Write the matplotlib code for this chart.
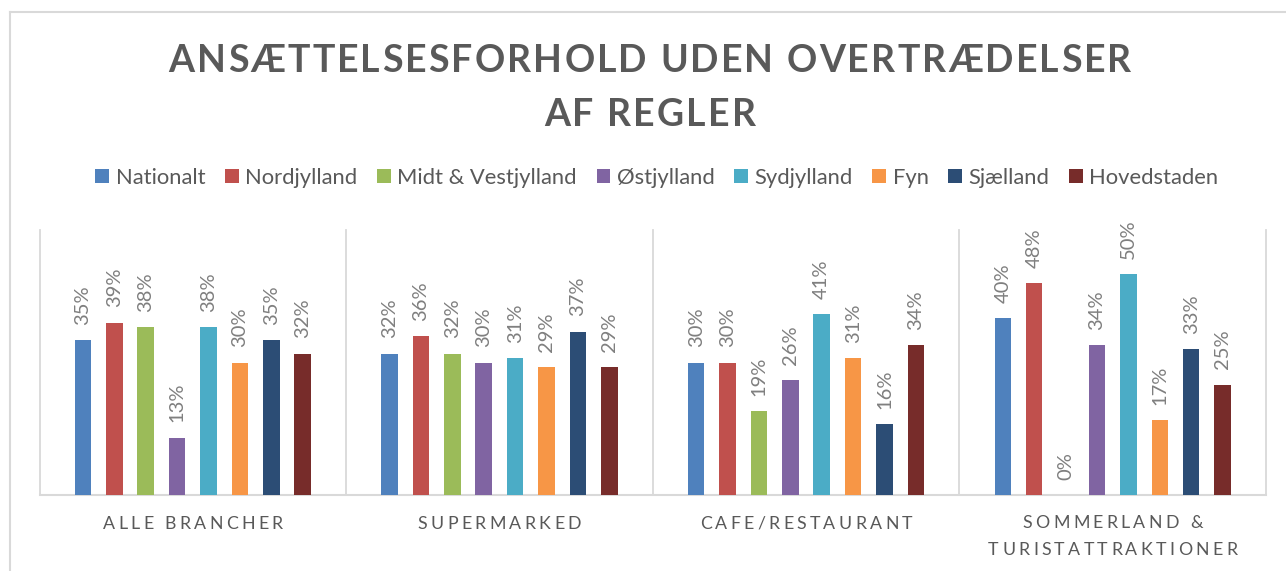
import matplotlib
matplotlib.use('Agg')
import matplotlib.pyplot as plt
from matplotlib.font_manager import FontProperties, findfont, get_font
from matplotlib.lines import Line2D
from matplotlib.transforms import IdentityTransform

FONT = 'Lato'
TEXT = '#595959'
LABEL = '#7f7f7f'
GRID = '#d9d9d9'

categories = ['ALLE BRANCHER', 'SUPERMARKED', 'CAFE/RESTAURANT',
              'SOMMERLAND &\nTURISTATTRAKTIONER']
regions = ['Nationalt', 'Nordjylland', 'Midt & Vestjylland', 'Østjylland',
           'Sydjylland', 'Fyn', 'Sjælland', 'Hovedstaden']
colors = ['#4F81BD', '#C0504D', '#9BBB59', '#8064A2',
          '#4BACC6', '#F79646', '#2C4D75', '#772C2A']

# share (%) per category, one list per region
nationalt = [35, 32, 30, 40]
nordjylland = [39, 36, 30, 48]
midt_vestjylland = [38, 32, 19, 0]
oestjylland = [13, 30, 26, 34]
sydjylland = [38, 31, 41, 50]
fyn = [30, 29, 31, 17]
sjaelland = [35, 37, 16, 33]
hovedstaden = [32, 29, 34, 25]
series = [nationalt, nordjylland, midt_vestjylland, oestjylland,
          sydjylland, fyn, sjaelland, hovedstaden]

W, H = 1286, 571
fig = plt.figure(figsize=(W / 100, H / 100), dpi=100)
ax = fig.add_axes([39.5 / W, 1 - 495 / H, (1266 - 39.5) / W, (495 - 230) / H])


def advances(s, fp):
    font = get_font(findfont(fp))
    font.set_size(fp.get_size_in_points(), fig.dpi)
    return [font.load_char(ord(c)).linearHoriAdvance / 65536 for c in s]


def tracking_for(s, fp, width):
    return (width - sum(advances(s, fp))) / (len(s) - 1)


def spaced(s, cx, cy, fp, track, color=TEXT):
    # letter-spaced text, centred on (cx, cy) in pixels from the top-left
    adv = advances(s, fp)
    total = sum(adv) + track * (len(s) - 1)
    x = cx - total / 2
    base = H - cy - 0.36 * fp.get_size_in_points() * fig.dpi / 72
    for c, a in zip(s, adv):
        if c != ' ':
            fig.text(x, base, c, fontproperties=fp, color=color,
                     ha='left', va='baseline', transform=IdentityTransform())
        x += a + track


slot = 0.1024
width = 0.054
bars = []
for j, (name, vals, col) in enumerate(zip(regions, series, colors)):
    xs = [i + (j - 3.5) * slot for i in range(len(categories))]
    b = ax.bar(xs, vals, width, color=col, label=name, zorder=3)
    bars.append(b)
    for x, v in zip(xs, vals):
        ax.annotate(f'{v}%', (x, v), xytext=(0, 11), textcoords='offset points',
                    rotation=90, ha='center', va='bottom', fontsize=14.5,
                    family=FONT, color=LABEL)

ax.set_xlim(-0.5, len(categories) - 0.5)
ax.set_ylim(0, 60)
ax.set_xticks([])
ax.set_yticks([])
for side in ['top', 'left', 'right']:
    ax.spines[side].set_visible(False)
ax.spines['bottom'].set_color(GRID)
ax.spines['bottom'].set_linewidth(1.5)
for k in range(len(categories) + 1):
    ax.axvline(k - 0.5, color=GRID, lw=1.3, zorder=1, clip_on=False)
ax.patch.set_visible(False)

# chart frame (top and left edge)
fig.add_artist(Line2D([10 / W, 10 / W], [0, 1 - 11.5 / H], color=GRID, lw=1.5))
fig.add_artist(Line2D([10 / W, 1], [1 - 11.5 / H, 1 - 11.5 / H], color=GRID, lw=1.5))

# title
title_fp = FontProperties(family=FONT, weight='bold', size=27)
t_lines = ['ANSÆTTELSESFORHOLD UDEN OVERTRÆDELSER', 'AF REGLER']
t_track = tracking_for(t_lines[0], title_fp, 963)
spaced(t_lines[0], 650, 58.5, title_fp, t_track)
spaced(t_lines[1], 650, 112.5, title_fp, t_track)

# category labels
cat_fp = FontProperties(family=FONT, size=12.8)
c_track = tracking_for(categories[0], cat_fp, 180)
fig.canvas.draw()
for i, cat in enumerate(categories):
    cx = ax.transData.transform((i, 0))[0]
    lines = cat.split('\n')
    ys = [522.5] if len(lines) == 1 else [521.5, 549]
    for line, cy in zip(lines, ys):
        spaced(line, cx, cy, cat_fp, c_track)

fig.legend(handles=bars, labels=regions, loc='center',
           bbox_to_anchor=(657 / W, 1 - 178 / H), ncol=8, frameon=False,
           prop=FontProperties(family=FONT, size=15.8), labelcolor=TEXT,
           handlelength=0.62, handleheight=0.62, handletextpad=0.3,
           columnspacing=0.9, borderpad=0, borderaxespad=0)

fig.savefig('out.png', dpi=100, facecolor='white')
